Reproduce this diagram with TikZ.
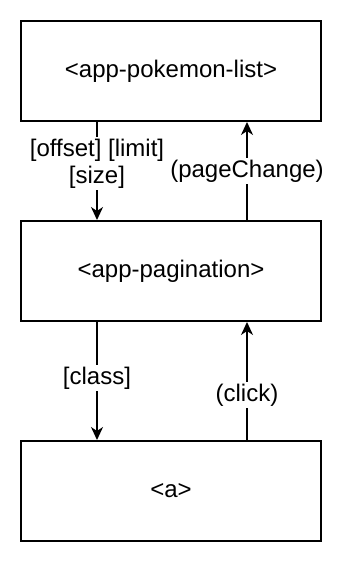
\documentclass[tikz,border=0pt]{standalone}
\usepackage{fontspec}
\setmainfont{Liberation Sans}
\usetikzlibrary{arrows.meta, positioning}

\begin{document}
\begin{tikzpicture}[>={Stealth[length=13pt, width=12pt, inset=4pt]}, x=1pt, y=-1pt,
  comp/.style={draw, line width=2pt, minimum width=300pt, minimum height=100pt,
    font=\fontsize{24}{27}\selectfont},
  flow/.style={->, line width=2pt},
  lbl/.style={fill=white, inner sep=2pt, align=center, font=\fontsize{24}{27}\selectfont}]
  \useasboundingbox (0,0) rectangle (356,578);
  % Component boxes, top to bottom
  \node[comp] (list) at (171,71) {<app-pokemon-list>};
  \node[comp, below=98pt of list] (pagination) {<app-pagination>};
  \node[comp, below=118pt of pagination] (anchor) {<a>};
  % Inputs going down
  \draw[flow] ([xshift=-74pt]list.south) -- ([xshift=-74pt]pagination.north)
    node[lbl, pos=0.425] {[offset] [limit]\\\relax[size]};
  \draw[flow] ([xshift=-74pt]pagination.south) -- ([xshift=-74pt]anchor.north)
    node[lbl, pos=0.475] {[class]};
  % Outputs going up
  \draw[flow] ([xshift=76pt]pagination.north) -- ([xshift=76pt]list.south)
    node[lbl, midway] {(pageChange)};
  \draw[flow] ([xshift=76pt]anchor.north) -- ([xshift=76pt]pagination.south)
    node[lbl, pos=0.38] {(click)};
\end{tikzpicture}
\end{document}
